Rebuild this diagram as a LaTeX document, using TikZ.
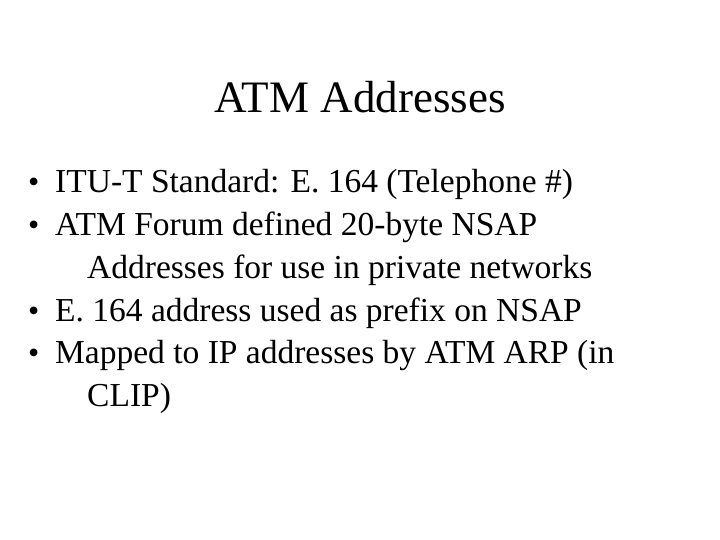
\documentclass[tikz,border=0pt]{standalone}
\usepackage{fontspec}
\setmainfont{Liberation Serif}
\begin{document}
\begin{tikzpicture}[x=1pt,y=-1pt,
  txt/.style={anchor=base west,inner sep=0pt,font=\fontsize{33.5}{38}\selectfont},
  bul/.style={anchor=base west,inner sep=0pt,font=\fontsize{32}{38}\selectfont}]
\useasboundingbox[fill=white] (0,0) rectangle (720,540);
\node[anchor=base,inner sep=0pt,font=\fontsize{45}{50}\selectfont] (title) at (360,113) {ATM Addresses};
\node[bul] (b1) at (28,193) {•};
\node[txt] (l1) at (55,193) {ITU-T Standard: E. 164 (Telephone \#)};
\node[bul] (b2) at (28,236) {•};
\node[txt] (l2) at (55,236) {ATM Forum defined 20-byte NSAP};
\node[txt] (l3) at (87,278) {Addresses for use in private networks};
\node[bul] (b3) at (28,321) {•};
\node[txt] (l4) at (55,321) {E. 164 address used as prefix on NSAP};
\node[bul] (b4) at (28,363) {•};
\node[txt] (l5) at (55,363) {Mapped to IP addresses by ATM ARP (in};
\node[txt] (l6) at (87,406) {CLIP)};
\end{tikzpicture}
\end{document}
